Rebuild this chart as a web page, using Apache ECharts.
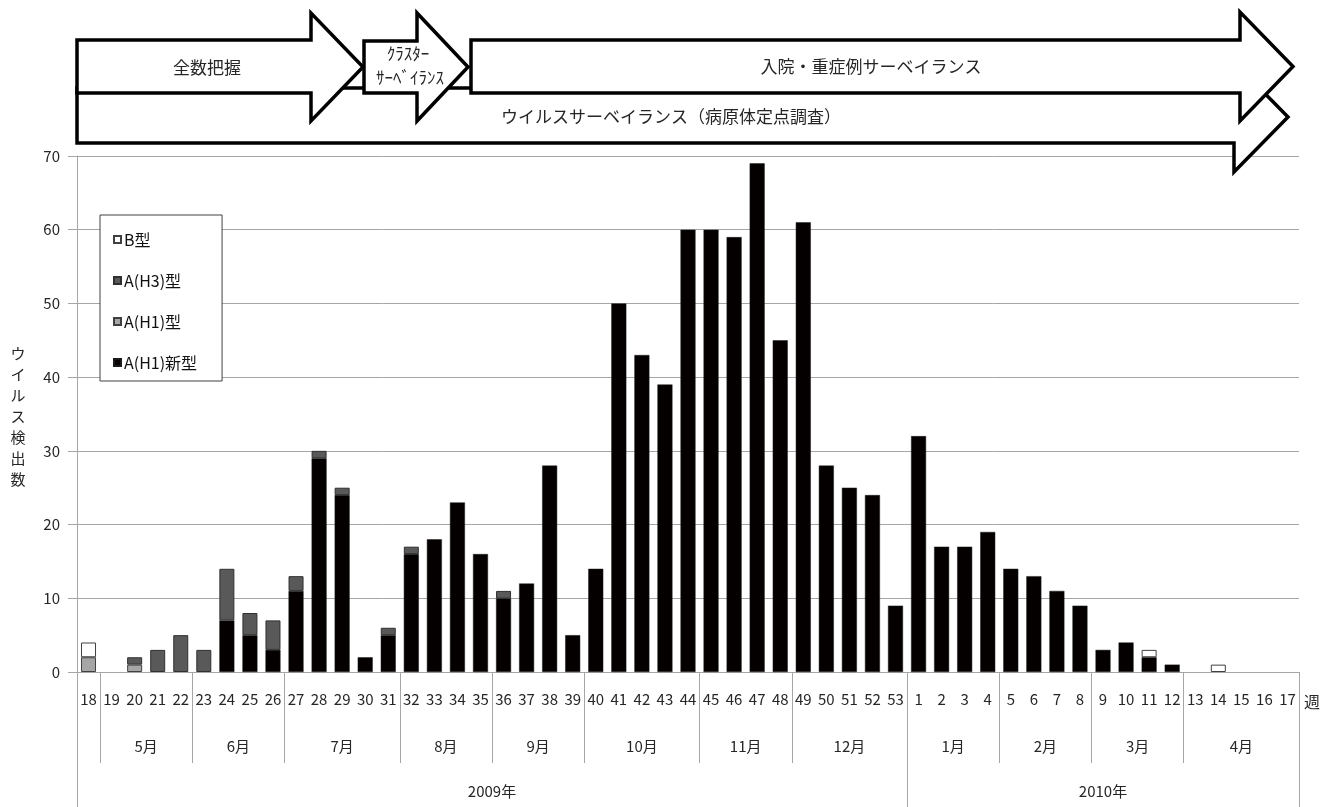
<!DOCTYPE html>
<html>
<head>
<meta charset="utf-8">
<title>ウイルス検出数</title>
<script src="https://cdn.jsdelivr.net/npm/echarts@6/dist/echarts.min.js"></script>
<style>
  html, body { margin: 0; padding: 0; background: #ffffff; }
  #chart { width: 1325px; height: 807px; }
</style>
</head>
<body>
<div id="chart"></div>
<script>
// Surveillance weeks: 2009 week 18 .. 53, then 2010 week 1 .. 17
const weeks = [
  '18','19','20','21','22','23','24','25','26','27','28','29','30','31','32','33','34','35',
  '36','37','38','39','40','41','42','43','44','45','46','47','48','49','50','51','52','53',
  '1','2','3','4','5','6','7','8','9','10','11','12','13','14','15','16','17'
];

// Virus detections per week, by type
const newH1 = [
  0,0,0,0,0,0,7,5,3,11,29,24,2,5,16,18,23,16,10,12,28,5,14,50,43,39,60,60,59,69,45,61,28,25,24,9,
  32,17,17,19,14,13,11,9,3,4,2,1,0,0,0,0,0
];
const h1 = [
  2,0,1,0,0,0,0,0,0,0,0,0,0,0,0,0,0,0,0,0,0,0,0,0,0,0,0,0,0,0,0,0,0,0,0,0,
  0,0,0,0,0,0,0,0,0,0,0,0,0,0,0,0,0
];
const h3 = [
  0,0,1,3,5,3,7,3,4,2,1,1,0,1,1,0,0,0,1,0,0,0,0,0,0,0,0,0,0,0,0,0,0,0,0,0,
  0,0,0,0,0,0,0,0,0,0,0,0,0,0,0,0,0
];
const typeB = [
  2,0,0,0,0,0,0,0,0,0,0,0,0,0,0,0,0,0,0,0,0,0,0,0,0,0,0,0,0,0,0,0,0,0,0,0,
  0,0,0,0,0,0,0,0,0,0,1,0,0,1,0,0,0
];

// Month and year groupings under the week labels (week 18 has no month label)
const monthLabels = ['5月','6月','7月','8月','9月','10月','11月','12月','1月','2月','3月','4月'];
const monthWeekCounts = [4,4,5,4,4,5,4,5,4,4,4,5];
const monthStartWeekIndex = 1;
const yearLabels = ['2009年','2010年'];
const yearWeekCounts = [36,17];

const seriesNames = ['A(H1)新型','A(H1)型','A(H3)型','B型'];
const legendOrder = ['B型','A(H3)型','A(H1)型','A(H1)新型'];

const FONT = '"Noto Sans CJK JP", "Noto Sans", sans-serif';
const AXIS_GRAY = '#a6a6a6';
const TEXT = '#262626';

// group boundaries and centres on a 0..N week scale
function groupScale(counts, start) {
  const bounds = [start];
  const centres = [];
  let pos = start;
  counts.forEach(c => { centres.push(pos + c / 2); pos += c; bounds.push(pos); });
  return { bounds, centres };
}
const months = groupScale(monthWeekCounts, monthStartWeekIndex);
const years = groupScale(yearWeekCounts, 0);

// zero entries are left out so that empty stack segments draw nothing
const toBars = arr => arr.map(v => (v === 0 ? '-' : v));

const chart = echarts.init(document.getElementById('chart'), null, { renderer: 'canvas' });

function arrowPoints(x0, x1, top, bottom, headTop, headBottom, tip) {
  const mid = (headTop + headBottom) / 2;
  return [[x0, top], [x1, top], [x1, headTop], [tip, mid], [x1, headBottom], [x1, bottom], [x0, bottom]];
}
const arrowStyle = { fill: '#ffffff', stroke: '#000000', lineWidth: 3.5, lineJoin: 'miter' };
const labelStyle = (text, size) => ({ text, fontSize: size, fontFamily: FONT, fill: TEXT, align: 'center', verticalAlign: 'middle' });

const option = {
  backgroundColor: '#ffffff',
  animation: false,
  grid: { left: 77, right: 26, top: 156, bottom: 135, containLabel: false },
  legend: {
    data: legendOrder,
    orient: 'vertical',
    left: 100,
    top: 215,
    itemWidth: 7,
    itemHeight: 7,
    itemGap: 24,
    padding: [16, 25, 10, 13],
    backgroundColor: '#ffffff',
    borderColor: '#404040',
    borderWidth: 1,
    borderRadius: 0,
    icon: 'rect',
    textStyle: { fontSize: 16, fontFamily: FONT, color: '#111', lineHeight: 17, padding: [0, 0, 0, -2] }
  },
  xAxis: [
    {
      type: 'category',
      data: weeks,
      boundaryGap: true,
      axisLine: { lineStyle: { color: AXIS_GRAY, width: 1 } },
      axisTick: { interval: 0, length: 46, lineStyle: { color: AXIS_GRAY } },
      axisLabel: { interval: 0, margin: 20, fontSize: 15, fontFamily: FONT, color: TEXT },
      splitLine: { show: false }
    },
    {
      type: 'value', min: 0, max: weeks.length, position: 'bottom', offset: 0,
      axisLine: { show: false },
      splitLine: { show: false },
      axisTick: { show: true, length: 91, customValues: months.bounds, lineStyle: { color: AXIS_GRAY } },
      axisLabel: {
        customValues: months.centres, margin: 67, fontSize: 15, fontFamily: FONT, color: TEXT,
        formatter: v => monthLabels[months.centres.indexOf(v)] || ''
      }
    },
    {
      type: 'value', min: 0, max: weeks.length, position: 'bottom', offset: 0,
      axisLine: { show: false },
      splitLine: { show: false },
      axisTick: { show: true, length: 135, customValues: years.bounds, lineStyle: { color: AXIS_GRAY } },
      axisLabel: {
        customValues: years.centres, margin: 112, fontSize: 15, fontFamily: FONT, color: TEXT,
        formatter: v => yearLabels[years.centres.indexOf(v)] || ''
      }
    }
  ],
  yAxis: {
    type: 'value', min: 0, max: 70, interval: 10,
    axisLine: { show: true, lineStyle: { color: AXIS_GRAY } },
    axisTick: { show: true, length: 9, lineStyle: { color: AXIS_GRAY } },
    axisLabel: { margin: 17, fontSize: 15, fontFamily: FONT, color: TEXT },
    splitLine: { show: true, lineStyle: { color: AXIS_GRAY, width: 1 } }
  },
  series: [
    { name: seriesNames[0], type: 'bar', stack: 'virus', barWidth: 15, data: toBars(newH1),
      itemStyle: { color: '#040000', borderColor: '#1a1a1a', borderWidth: 0.5 } },
    { name: seriesNames[1], type: 'bar', stack: 'virus', barWidth: 15, data: toBars(h1),
      itemStyle: { color: '#a6a6a6', borderColor: '#404040', borderWidth: 1 } },
    { name: seriesNames[2], type: 'bar', stack: 'virus', barWidth: 15, data: toBars(h3),
      itemStyle: { color: '#595959', borderColor: '#303030', borderWidth: 1 } },
    { name: seriesNames[3], type: 'bar', stack: 'virus', barWidth: 15, data: toBars(typeB),
      itemStyle: { color: '#ffffff', borderColor: '#404040', borderWidth: 1 } }
  ],
  graphic: [
    // surveillance period arrows
    { type: 'polygon', z: 100, shape: { points: arrowPoints(77, 1234, 88, 143, 62, 172, 1288) }, style: arrowStyle },
    { type: 'polygon', z: 101, shape: { points: arrowPoints(77, 311, 40, 93, 13, 121, 363) }, style: arrowStyle },
    { type: 'polygon', z: 101, shape: { points: arrowPoints(364, 417, 41, 93, 13, 121, 468) }, style: arrowStyle },
    { type: 'polygon', z: 101, shape: { points: arrowPoints(471, 1240, 40, 93, 12, 121, 1293) }, style: arrowStyle },
    { type: 'text', z: 102, x: 671, y: 117, style: labelStyle('ウイルスサーベイランス（病原体定点調査）', 17) },
    { type: 'text', z: 102, x: 207, y: 68, style: labelStyle('全数把握', 17) },
    { type: 'text', z: 102, x: 408, y: 54, style: labelStyle('ｸﾗｽﾀｰ', 17) },
    { type: 'text', z: 102, x: 410, y: 78, style: labelStyle('ｻｰﾍﾞｲﾗﾝｽ', 17) },
    { type: 'text', z: 102, x: 871, y: 67, style: labelStyle('入院・重症例サーベイランス', 17) },
    // axis titles
    { type: 'text', z: 102, x: 18, y: 416, style: Object.assign(labelStyle('ウ\nイ\nル\nス\n検\n出\n数', 15), { lineHeight: 21 }) },
    { type: 'text', z: 102, x: 1312, y: 702, style: labelStyle('週', 16) }
  ]
};

chart.setOption(option);
</script>
</body>
</html>
